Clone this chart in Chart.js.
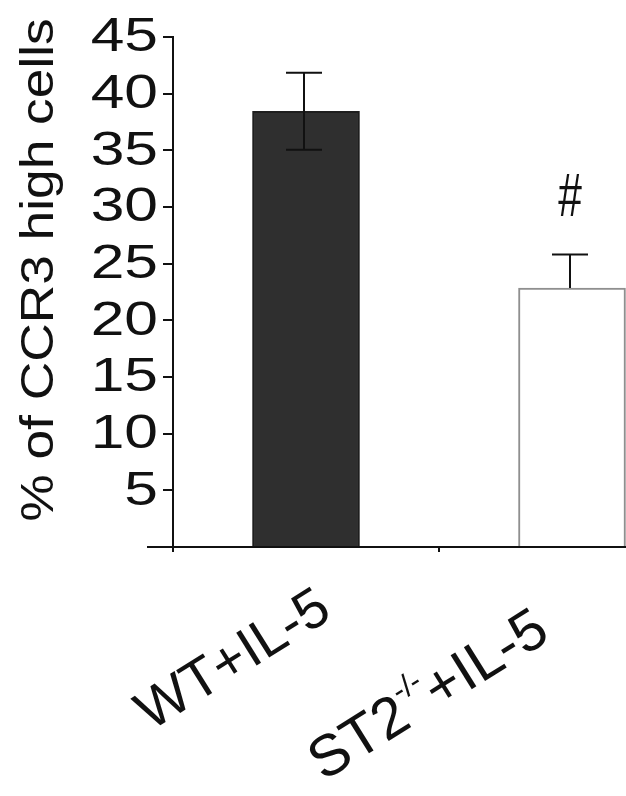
<!DOCTYPE html>
<html>
<head>
<meta charset="utf-8">
<script src="https://cdn.jsdelivr.net/npm/chart.js@4/dist/chart.umd.min.js"></script>
<style>
  html, body { margin: 0; padding: 0; background: #fff; overflow: hidden; }
  #wrap { position: relative; width: 720px; height: 796px; }
</style>
</head>
<body>
<div id="wrap"><canvas id="c" width="720" height="796"></canvas></div>
<script>
// Groups and measured values
const groups = ['WT+IL-5', 'ST2-/-+IL-5'];
const meanPct = [38.45, 22.85];
const errPct = [3.4, 2.95];
const showLowerErr = [true, false];
const yTickValues = [5, 10, 15, 20, 25, 30, 35, 40, 45];
const yTitle = '% of CCR3 high cells';
const sigMarks = ['', '#'];

const FONT = '"Liberation Sans", Arial, sans-serif';
const INK = '#111';

// Draw text with an optional stretch, rotated about (x, y)
function stretchedText(ctx, text, x, y, opts) {
  ctx.save();
  ctx.translate(x, y);
  if (opts.rot) ctx.rotate(opts.rot);
  ctx.scale(opts.sx || 1, opts.sy || 1);
  ctx.font = opts.font;
  ctx.fillStyle = INK;
  ctx.textAlign = opts.align || 'left';
  ctx.textBaseline = opts.baseline || 'alphabetic';
  ctx.fillText(text, 0, 0);
  ctx.restore();
}

// Error bars and significance mark above the bars
const errorBarPlugin = {
  id: 'errorBars',
  afterDatasetsDraw(chart) {
    const ctx = chart.ctx;
    const meta = chart.getDatasetMeta(0);
    const y = chart.scales.y;
    ctx.save();
    ctx.strokeStyle = INK;
    ctx.lineWidth = 2;
    meta.data.forEach((bar, i) => {
      const cx = bar.x - 2;
      const top = y.getPixelForValue(meanPct[i] + errPct[i]);
      const bot = y.getPixelForValue(showLowerErr[i] ? meanPct[i] - errPct[i] : meanPct[i]);
      const half = 18;
      ctx.beginPath();
      ctx.moveTo(cx, top); ctx.lineTo(cx, bot);
      ctx.moveTo(cx - half, top); ctx.lineTo(cx + half, top);
      if (showLowerErr[i]) { ctx.moveTo(cx - half, bot); ctx.lineTo(cx + half, bot); }
      ctx.stroke();
      if (sigMarks[i]) {
        stretchedText(ctx, sigMarks[i], cx, top - 55,
          { font: '50px ' + FONT, sx: 0.85, sy: 1.22, align: 'center', baseline: 'middle' });
      }
    });
    ctx.restore();
  }
};

// Tick labels, axis title, baseline extension and rotated group labels
const textPlugin = {
  id: 'texts',
  afterDraw(chart) {
    const ctx = chart.ctx;
    const area = chart.chartArea;
    const x = chart.scales.x;
    const y = chart.scales.y;

    // baseline runs a little to the left of the y axis
    ctx.save();
    ctx.strokeStyle = INK;
    ctx.lineWidth = 2;
    ctx.beginPath();
    ctx.moveTo(147, area.bottom);
    ctx.lineTo(area.left, area.bottom);
    ctx.stroke();
    ctx.restore();

    // y tick labels (wide lettering)
    yTickValues.forEach(v => {
      stretchedText(ctx, String(v), 158, y.getPixelForValue(v) + 1,
        { font: '48px ' + FONT, sx: 1.26, sy: 1, align: 'right', baseline: 'middle' });
    });

    // y axis title
    stretchedText(ctx, yTitle, 40, 270,
      { font: '48px ' + FONT, rot: -Math.PI / 2, sx: 1.11, sy: 0.96, align: 'center', baseline: 'middle' });

    // group labels, rotated, anchored at the end of their baseline
    const angle = -32 * Math.PI / 180;
    const anchors = [[28, 70], [-20, 92]];
    const sizes = [56, 58];
    groups.forEach((g, i) => {
      const px = x.getPixelForValue(i);
      const m = g.match(/^(ST2)(-\/-)(.*)$/);
      const parts = m ? [[m[1], false], [m[2], true], [m[3], false]] : [[g, false]];
      const big = sizes[i] + 'px ' + FONT;
      const small = Math.round(sizes[i] * 0.54) + 'px ' + FONT;
      ctx.save();
      ctx.fillStyle = INK;
      ctx.textBaseline = 'alphabetic';
      ctx.textAlign = 'left';
      let total = 0;
      parts.forEach(([t, sup]) => {
        ctx.font = sup ? small : big;
        total += ctx.measureText(t).width;
      });
      ctx.translate(px + anchors[i][0], area.bottom + anchors[i][1]);
      ctx.rotate(angle);
      let cur = -total;
      parts.forEach(([t, sup]) => {
        ctx.font = sup ? small : big;
        ctx.fillText(t, cur, sup ? -sizes[i] * 0.47 : 0);
        cur += ctx.measureText(t).width;
      });
      ctx.restore();
    });
  }
};

new Chart(document.getElementById('c'), {
  type: 'bar',
  data: {
    labels: groups,
    datasets: [{
      data: meanPct,
      backgroundColor: ['#2f2f2f', '#ffffff'],
      borderColor: ['#1e1e1e', '#8f8f8f'],
      borderWidth: 2,
      barThickness: 107,
      borderSkipped: 'bottom'
    }]
  },
  options: {
    responsive: false,
    animation: false,
    events: [],
    layout: { padding: { top: 37, right: 15, left: 0, bottom: 0 } },
    plugins: { legend: { display: false }, tooltip: { enabled: false } },
    scales: {
      x: {
        offset: true,
        grid: { display: true, offset: true, drawOnChartArea: false, drawTicks: true, tickLength: 5, color: INK, lineWidth: 2 },
        border: { display: true, color: INK, width: 2 },
        ticks: { display: false },
        afterFit(s) { s.height = 796 - 547; }
      },
      y: {
        min: 0, max: 45,
        afterBuildTicks(s) { s.ticks = [0].concat(yTickValues).map(v => ({ value: v })); },
        grid: { display: true, drawOnChartArea: false, drawTicks: true, tickLength: 10, color: INK, lineWidth: 2 },
        border: { display: true, color: INK, width: 2 },
        ticks: { display: false, autoSkip: false },
        afterFit(s) { s.width = 173; }
      }
    }
  },
  plugins: [errorBarPlugin, textPlugin]
});
</script>
</body>
</html>
